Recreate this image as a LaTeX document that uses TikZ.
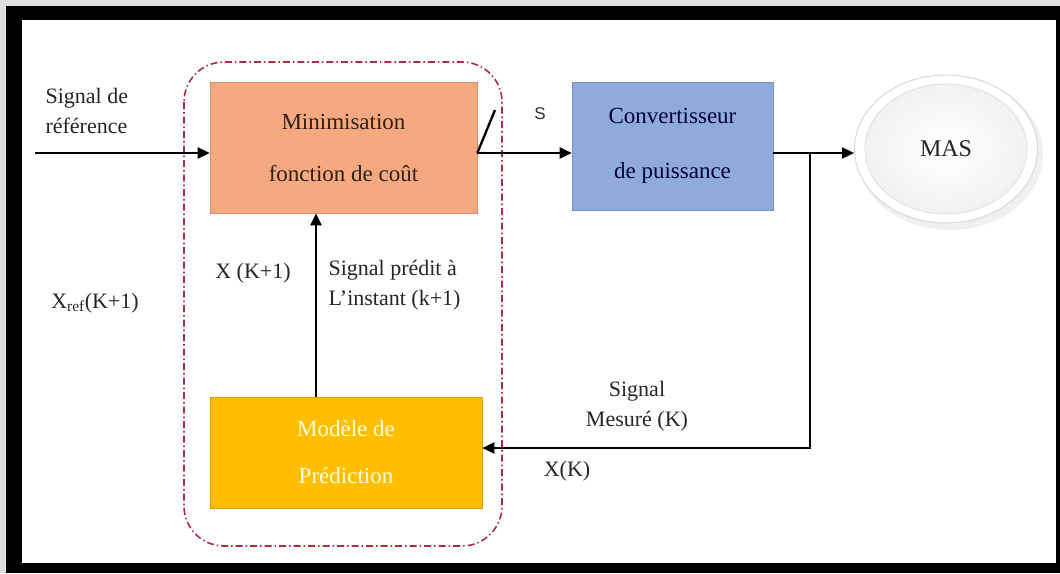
\documentclass[tikz,border=0pt]{standalone}
\usepackage{fontspec}
\setmainfont{Liberation Serif}
\newfontfamily\labelsans{Liberation Sans}
\usetikzlibrary{arrows.meta,calc,shapes.geometric,positioning}
\definecolor{costorange}{RGB}{246,168,128}
\definecolor{convblue}{RGB}{143,170,220}
\definecolor{predgold}{RGB}{255,190,0}
\definecolor{loopred}{RGB}{170,45,70}

\begin{document}
\begin{tikzpicture}[x=1pt,y=-1pt,
	block/.style={draw=#1!85!black, fill=#1, line width=0.6pt, align=center, inner sep=0pt},
	lbl/.style={align=center, font=\fontsize{22}{30}\selectfont, text=black!85},
	arrow/.style={-{Triangle[length=12pt,width=11pt]}, line width=2.3pt},
	wire/.style={line width=2.3pt}]
	\fill[gray!25] (0,0) rectangle (1060,573);
	\fill[black] (6,6) rectangle (1060,573);
	\fill[white] (22,20) rectangle (1056,563);
	\useasboundingbox (0,0) rectangle (1060,573);
	%%%%%
	\draw[loopred, dash pattern=on 7pt off 3pt on 1.5pt off 3pt, line width=1.6pt, rounded corners=40pt] (184,62) rectangle (502,546);
	\node[block=costorange, minimum width=267pt, minimum height=131pt, text=black!75!brown, font=\fontsize{23}{52}\selectfont] (minim) at (343.5,147.5) {Minimisation\\fonction de coût};
	\node[block=convblue, minimum width=201pt, minimum height=128pt, text=blue!25!black, font=\fontsize{23}{55}\selectfont] (conv) at (672.5,146) {Convertisseur\\de puissance};
	\node[block=predgold, minimum width=272pt, minimum height=111pt, text=yellow!15!white, font=\fontsize{23}{47}\selectfont] (pred) at (346,452.5) {Modèle de\\Prédiction};
	\fill[gray!12] (950,154) ellipse (93 and 76);
	\node[ellipse, minimum width=183pt, minimum height=148pt, draw=gray!30, fill=white, line width=1pt, font=\fontsize{24}{28}\selectfont, text=black!85,
		path picture={\shade[inner color=white, outer color=gray!12, draw=gray!22, line width=1pt] (path picture bounding box.center) ellipse [x radius=81pt, y radius=65pt];}] (mas) at (946,149) {MAS};
	%%%%%
	\coordinate (in) at (35,153);
	\coordinate (sw) at (495,110);
	\coordinate (br) at (810,153);
	\coordinate (fb) at (810,448);
	\draw[arrow] (in) -- (in -| minim.west);
	\draw[wire] (minim.east |- in) -- (sw);
	\draw[arrow] (minim.east |- in) -- (conv.west |- in);
	\draw[wire] (conv.east |- in) -- (br);
	\draw[arrow] (br) -- (br -| mas.west);
	\draw[arrow] (br) -- (fb) -- (fb -| pred.east);
	\draw[arrow] ($(pred.north west)!0.39!(pred.north east)$) coordinate (up) -- (up |- minim.south);
	%%%%%
	\node[lbl, align=left, anchor=west] (refsig) at (42,111) {Signal de\\référence};
	\node[lbl] (xref) at (95,303) {X\textsubscript{ref}(K+1)};
	\node[lbl] (xnext) at (253,273) {X (K+1)};
	\node[lbl, align=left, anchor=west] (predsig) at (325,285) {Signal prédit à\\L'instant (k+1)};
	\node[lbl] (messig) at (637,406) {Signal\\Mesuré (K)};
	\node[lbl] (xk) at (567,471) {X(K)};
	\node[font=\labelsans\fontsize{17}{20}\selectfont, text=black!80] (s) at (540,114) {S};
\end{tikzpicture}
\end{document}
